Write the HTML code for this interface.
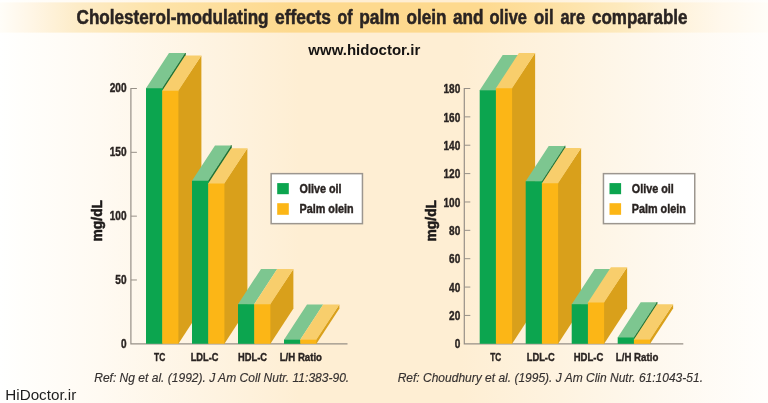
<!DOCTYPE html>
<html lang="en">
<head>
<meta charset="utf-8">
<title>Cholesterol-modulating effects of palm olein and olive oil are comparable</title>
<style>
  html, body { margin: 0; padding: 0; background: #fffdf9; }
  body { width: 768px; height: 403px; overflow: hidden; }
  svg { display: block; }
  text { font-family: "Liberation Sans", sans-serif; fill: #2a2422; }
  .title { font-weight: bold; font-size: 19.4px; stroke: #2a2422; stroke-width: 0.5px; }
  .site  { font-weight: bold; font-size: 15.2px; fill: #151312; }
  .tick  { font-weight: bold; font-size: 12.6px; stroke: #2a2422; stroke-width: 0.4px; }
  .cat   { font-weight: bold; font-size: 11.8px; stroke: #2a2422; stroke-width: 0.4px; }
  .leg   { font-weight: bold; font-size: 13.3px; stroke: #2a2422; stroke-width: 0.45px; }
  .mg    { font-weight: bold; font-size: 15px; fill: #1d1a19; stroke: #1d1a19; stroke-width: 0.6px; stroke-linejoin: round; }
  .ref   { font-style: italic; font-size: 12.6px; fill: #353130; stroke: #353130; stroke-width: 0.15px; }
  .brand { font-size: 15.2px; fill: #1e1e1e; }
</style>
</head>
<body>
<svg width="768" height="403" viewBox="0 0 768 403">
<defs>
  <linearGradient id="bg" x1="0" y1="0" x2="1" y2="0">
    <stop offset="0" stop-color="#ffffff"/>
    <stop offset="0.03" stop-color="#fffefb"/>
    <stop offset="0.13" stop-color="#fffaf2"/>
    <stop offset="0.26" stop-color="#fef4e3"/>
    <stop offset="0.39" stop-color="#feeed3"/>
    <stop offset="0.60" stop-color="#feeed3"/>
    <stop offset="0.73" stop-color="#fef3e0"/>
    <stop offset="0.85" stop-color="#fef8ee"/>
    <stop offset="1" stop-color="#fffefc"/>
  </linearGradient>
  <linearGradient id="band" x1="0" y1="0" x2="1" y2="0">
    <stop offset="0" stop-color="#fffdf8"/>
    <stop offset="0.04" stop-color="#fff6e6"/>
    <stop offset="0.10" stop-color="#fdecc8"/>
    <stop offset="0.20" stop-color="#fde3a9"/>
    <stop offset="0.38" stop-color="#fdd98e"/>
    <stop offset="0.62" stop-color="#fdd98e"/>
    <stop offset="0.70" stop-color="#fddf9f"/>
    <stop offset="0.76" stop-color="#fde5b0"/>
    <stop offset="0.81" stop-color="#fdeabf"/>
    <stop offset="0.87" stop-color="#fef1d7"/>
    <stop offset="0.94" stop-color="#fff8ec"/>
    <stop offset="1" stop-color="#fffdf8"/>
  </linearGradient>
  <linearGradient id="bandv" x1="0" y1="0" x2="0" y2="1">
    <stop offset="0" stop-color="#fff" stop-opacity="0"/>
    <stop offset="0.05" stop-color="#fff" stop-opacity="1"/>
    <stop offset="0.95" stop-color="#fff" stop-opacity="1"/>
    <stop offset="1" stop-color="#fff" stop-opacity="0"/>
  </linearGradient>
  <mask id="bandm"><rect x="0" y="1.5" width="768" height="32" fill="url(#bandv)"/></mask>
</defs>
<rect width="768" height="403" fill="url(#bg)"/>
<rect x="0" y="1.5" width="768" height="32" fill="url(#band)" mask="url(#bandm)"/>
<text class="title" y="24.2"><tspan x="76.54" textLength="192.01" lengthAdjust="spacingAndGlyphs">Cholesterol-modulating</tspan> <tspan x="275" textLength="56" lengthAdjust="spacingAndGlyphs">effects</tspan> <tspan x="337.46" textLength="15.04" lengthAdjust="spacingAndGlyphs">of</tspan> <tspan x="359.16" textLength="40.53" lengthAdjust="spacingAndGlyphs">palm</tspan> <tspan x="406.5" textLength="40.04" lengthAdjust="spacingAndGlyphs">olein</tspan> <tspan x="453" textLength="30.53" lengthAdjust="spacingAndGlyphs">and</tspan> <tspan x="489.5" textLength="37.51" lengthAdjust="spacingAndGlyphs">olive</tspan> <tspan x="534" textLength="19.55" lengthAdjust="spacingAndGlyphs">oil</tspan> <tspan x="560.46" textLength="24.52" lengthAdjust="spacingAndGlyphs">are</tspan> <tspan x="592" textLength="95.51" lengthAdjust="spacingAndGlyphs">comparable</tspan></text>
<text class="site" x="308.3" y="54.6" textLength="112" lengthAdjust="spacingAndGlyphs">www.hidoctor.ir</text>
<path d="M136.9 88.5 H130.9 V343.8 H347.5" fill="none" stroke="#979087" stroke-width="1.2"/>
<path d="M130.9 152.32 h6" stroke="#979087" stroke-width="1"/>
<path d="M130.9 216.15 h6" stroke="#979087" stroke-width="1"/>
<path d="M130.9 279.98 h6" stroke="#979087" stroke-width="1"/>
<text class="tick" x="126.5" y="92.3" text-anchor="end" textLength="16.8" lengthAdjust="spacingAndGlyphs">200</text>
<text class="tick" x="126.5" y="156.28" text-anchor="end" textLength="16.8" lengthAdjust="spacingAndGlyphs">150</text>
<text class="tick" x="126.5" y="220.25" text-anchor="end" textLength="16.8" lengthAdjust="spacingAndGlyphs">100</text>
<text class="tick" x="126.5" y="284.23" text-anchor="end" textLength="11.2" lengthAdjust="spacingAndGlyphs">50</text>
<text class="tick" x="126.5" y="348.2" text-anchor="end" textLength="5.6" lengthAdjust="spacingAndGlyphs">0</text>
<polygon points="162.2,88.3 185.2,53 185.2,56.1 162.2,91.4" fill="#1f7034" stroke="#1f7034" stroke-width="1"/>
<polygon points="146,88.9 162.2,88.9 162.2,88.3 185.2,53 169,53 146,88.3" fill="#7dc690"/>
<polygon points="146,88.3 162.8,88.3 162.8,343.8 146,343.8" fill="#0ca54f"/>
<polygon points="177.8,90.8 177.8,90.8 201.4,55.5 201.4,308.5 178.4,343.8 177.8,343.8" fill="#d9a01b"/>
<polygon points="162.2,91.4 178.4,91.4 178.4,90.8 201.4,55.5 185.2,55.5 162.2,90.8" fill="#f8ce6c"/>
<polygon points="162.2,90.8 178.4,90.8 178.4,343.8 162.2,343.8" fill="#fcb616"/>
<polygon points="208.2,180.8 231.2,145.5 231.2,148.8 208.2,184.1" fill="#1f7034" stroke="#1f7034" stroke-width="1"/>
<polygon points="192,181.4 208.2,181.4 208.2,180.8 231.2,145.5 215,145.5 192,180.8" fill="#7dc690"/>
<polygon points="192,180.8 208.8,180.8 208.8,343.8 192,343.8" fill="#0ca54f"/>
<polygon points="223.8,183.5 223.8,183.5 247.4,148.2 247.4,308.5 224.4,343.8 223.8,343.8" fill="#d9a01b"/>
<polygon points="208.2,184.1 224.4,184.1 224.4,183.5 247.4,148.2 231.2,148.2 208.2,183.5" fill="#f8ce6c"/>
<polygon points="208.2,183.5 224.4,183.5 224.4,343.8 208.2,343.8" fill="#fcb616"/>
<polygon points="238,304.8 254.2,304.8 254.2,304.2 277.2,268.9 261,268.9 238,304.2" fill="#7dc690"/>
<polygon points="238,304.2 254.8,304.2 254.8,343.8 238,343.8" fill="#0ca54f"/>
<polygon points="269.8,304.2 269.8,304.2 293.4,268.9 293.4,308.5 270.4,343.8 269.8,343.8" fill="#d9a01b"/>
<polygon points="254.2,304.8 270.4,304.8 270.4,304.2 293.4,268.9 277.2,268.9 254.2,304.2" fill="#f8ce6c"/>
<polygon points="254.2,304.2 270.4,304.2 270.4,343.8 254.2,343.8" fill="#fcb616"/>
<polygon points="284,340.3 300.2,340.3 300.2,339.7 323.2,304.4 307,304.4 284,339.7" fill="#7dc690"/>
<polygon points="284,339.7 300.8,339.7 300.8,343.8 284,343.8" fill="#0ca54f"/>
<polygon points="315.8,339.7 315.8,339.7 339.4,304.4 339.4,308.5 316.4,343.8 315.8,343.8" fill="#d9a01b"/>
<polygon points="300.2,340.3 316.4,340.3 316.4,339.7 339.4,304.4 323.2,304.4 300.2,339.7" fill="#f8ce6c"/>
<polygon points="300.2,339.7 316.4,339.7 316.4,343.8 300.2,343.8" fill="#fcb616"/>
<text class="cat" x="154" y="360.8" textLength="11.2" lengthAdjust="spacingAndGlyphs">TC</text>
<text class="cat" x="190.7" y="360.8" textLength="27.8" lengthAdjust="spacingAndGlyphs">LDL-C</text>
<text class="cat" x="238" y="360.8" textLength="29" lengthAdjust="spacingAndGlyphs">HDL-C</text>
<text class="cat" x="279.7" y="360.8" textLength="42.3" lengthAdjust="spacingAndGlyphs">L/H Ratio</text>
<rect x="271.15" y="173.65" width="91.3" height="50" fill="#ffffff" stroke="#9c968f" stroke-width="1.5"/>
<rect x="277.2" y="183.1" width="11.6" height="11.1" fill="#0ca54f"/>
<rect x="277.2" y="203.2" width="11.6" height="11.6" fill="#fcb616"/>
<text class="leg" x="299.5" y="193.3" textLength="42" lengthAdjust="spacingAndGlyphs">Olive oil</text>
<text class="leg" x="299.5" y="213.2" textLength="54" lengthAdjust="spacingAndGlyphs">Palm olein</text>
<text class="mg" transform="translate(102.2 241.4) rotate(-90)" textLength="41.4" lengthAdjust="spacingAndGlyphs">mg/dL</text>
<text class="ref" x="94.2" y="381.8" textLength="255" lengthAdjust="spacingAndGlyphs">Ref: Ng et al. (1992). J Am Coll Nutr. 11:383-90.</text>
<path d="M470.3 88.5 H464.3 V343.8 H683.3" fill="none" stroke="#979087" stroke-width="1.2"/>
<path d="M464.3 116.87 h6" stroke="#979087" stroke-width="1"/>
<path d="M464.3 145.23 h6" stroke="#979087" stroke-width="1"/>
<path d="M464.3 173.6 h6" stroke="#979087" stroke-width="1"/>
<path d="M464.3 201.97 h6" stroke="#979087" stroke-width="1"/>
<path d="M464.3 230.33 h6" stroke="#979087" stroke-width="1"/>
<path d="M464.3 258.7 h6" stroke="#979087" stroke-width="1"/>
<path d="M464.3 287.07 h6" stroke="#979087" stroke-width="1"/>
<path d="M464.3 315.43 h6" stroke="#979087" stroke-width="1"/>
<text class="tick" x="460.3" y="93.3" text-anchor="end" textLength="16.8" lengthAdjust="spacingAndGlyphs">180</text>
<text class="tick" x="460.3" y="121.64" text-anchor="end" textLength="16.8" lengthAdjust="spacingAndGlyphs">160</text>
<text class="tick" x="460.3" y="149.99" text-anchor="end" textLength="16.8" lengthAdjust="spacingAndGlyphs">140</text>
<text class="tick" x="460.3" y="178.33" text-anchor="end" textLength="16.8" lengthAdjust="spacingAndGlyphs">120</text>
<text class="tick" x="460.3" y="206.68" text-anchor="end" textLength="16.8" lengthAdjust="spacingAndGlyphs">100</text>
<text class="tick" x="460.3" y="235.02" text-anchor="end" textLength="11.2" lengthAdjust="spacingAndGlyphs">80</text>
<text class="tick" x="460.3" y="263.37" text-anchor="end" textLength="11.2" lengthAdjust="spacingAndGlyphs">60</text>
<text class="tick" x="460.3" y="291.71" text-anchor="end" textLength="11.2" lengthAdjust="spacingAndGlyphs">40</text>
<text class="tick" x="460.3" y="320.06" text-anchor="end" textLength="11.2" lengthAdjust="spacingAndGlyphs">20</text>
<text class="tick" x="460.3" y="348.4" text-anchor="end" textLength="5.6" lengthAdjust="spacingAndGlyphs">0</text>
<polygon points="479.7,90.8 495.9,90.8 495.9,90.2 518.9,54.9 502.7,54.9 479.7,90.2" fill="#7dc690"/>
<polygon points="479.7,90.2 496.5,90.2 496.5,343.8 479.7,343.8" fill="#0ca54f"/>
<polygon points="511.5,88.3 511.5,88.3 535.1,53 535.1,308.5 512.1,343.8 511.5,343.8" fill="#d9a01b"/>
<polygon points="495.9,88.9 512.1,88.9 512.1,88.3 535.1,53 518.9,53 495.9,88.3" fill="#f8ce6c"/>
<polygon points="495.9,88.3 512.1,88.3 512.1,343.8 495.9,343.8" fill="#fcb616"/>
<polygon points="541.9,181.2 564.9,145.9 564.9,148.6 541.9,183.9" fill="#1f7034" stroke="#1f7034" stroke-width="1"/>
<polygon points="525.7,181.8 541.9,181.8 541.9,181.2 564.9,145.9 548.7,145.9 525.7,181.2" fill="#7dc690"/>
<polygon points="525.7,181.2 542.5,181.2 542.5,343.8 525.7,343.8" fill="#0ca54f"/>
<polygon points="557.5,183.3 557.5,183.3 581.1,148 581.1,308.5 558.1,343.8 557.5,343.8" fill="#d9a01b"/>
<polygon points="541.9,183.9 558.1,183.9 558.1,183.3 581.1,148 564.9,148 541.9,183.3" fill="#f8ce6c"/>
<polygon points="541.9,183.3 558.1,183.3 558.1,343.8 541.9,343.8" fill="#fcb616"/>
<polygon points="571.7,304.8 587.9,304.8 587.9,304.2 610.9,268.9 594.7,268.9 571.7,304.2" fill="#7dc690"/>
<polygon points="571.7,304.2 588.5,304.2 588.5,343.8 571.7,343.8" fill="#0ca54f"/>
<polygon points="603.5,302.5 603.5,302.5 627.1,267.2 627.1,308.5 604.1,343.8 603.5,343.8" fill="#d9a01b"/>
<polygon points="587.9,303.1 604.1,303.1 604.1,302.5 627.1,267.2 610.9,267.2 587.9,302.5" fill="#f8ce6c"/>
<polygon points="587.9,302.5 604.1,302.5 604.1,343.8 587.9,343.8" fill="#fcb616"/>
<polygon points="633.9,337.5 656.9,302.2 656.9,304.9 633.9,340.2" fill="#1f7034" stroke="#1f7034" stroke-width="1"/>
<polygon points="617.7,338.1 633.9,338.1 633.9,337.5 656.9,302.2 640.7,302.2 617.7,337.5" fill="#7dc690"/>
<polygon points="617.7,337.5 634.5,337.5 634.5,343.8 617.7,343.8" fill="#0ca54f"/>
<polygon points="649.5,339.6 649.5,339.6 673.1,304.3 673.1,308.5 650.1,343.8 649.5,343.8" fill="#d9a01b"/>
<polygon points="633.9,340.2 650.1,340.2 650.1,339.6 673.1,304.3 656.9,304.3 633.9,339.6" fill="#f8ce6c"/>
<polygon points="633.9,339.6 650.1,339.6 650.1,343.8 633.9,343.8" fill="#fcb616"/>
<text class="cat" x="490.3" y="360.8" textLength="11" lengthAdjust="spacingAndGlyphs">TC</text>
<text class="cat" x="526.7" y="360.8" textLength="28" lengthAdjust="spacingAndGlyphs">LDL-C</text>
<text class="cat" x="573.7" y="360.8" textLength="29.6" lengthAdjust="spacingAndGlyphs">HDL-C</text>
<text class="cat" x="615.8" y="360.8" textLength="42.5" lengthAdjust="spacingAndGlyphs">L/H Ratio</text>
<rect x="603.45" y="173.65" width="91.3" height="50" fill="#ffffff" stroke="#9c968f" stroke-width="1.5"/>
<rect x="609.5" y="183.1" width="11.6" height="11.1" fill="#0ca54f"/>
<rect x="609.5" y="203.2" width="11.6" height="11.6" fill="#fcb616"/>
<text class="leg" x="631.8" y="193.3" textLength="42" lengthAdjust="spacingAndGlyphs">Olive oil</text>
<text class="leg" x="631.8" y="213.2" textLength="54" lengthAdjust="spacingAndGlyphs">Palm olein</text>
<text class="mg" transform="translate(436 241.4) rotate(-90)" textLength="41.4" lengthAdjust="spacingAndGlyphs">mg/dL</text>
<text class="ref" x="397.7" y="381.8" textLength="305.3" lengthAdjust="spacingAndGlyphs">Ref: Choudhury et al. (1995). J Am Clin Nutr. 61:1043-51.</text>
<text class="brand" x="5.3" y="400" textLength="71" lengthAdjust="spacingAndGlyphs">HiDoctor.ir</text>
</svg>
</body>
</html>
